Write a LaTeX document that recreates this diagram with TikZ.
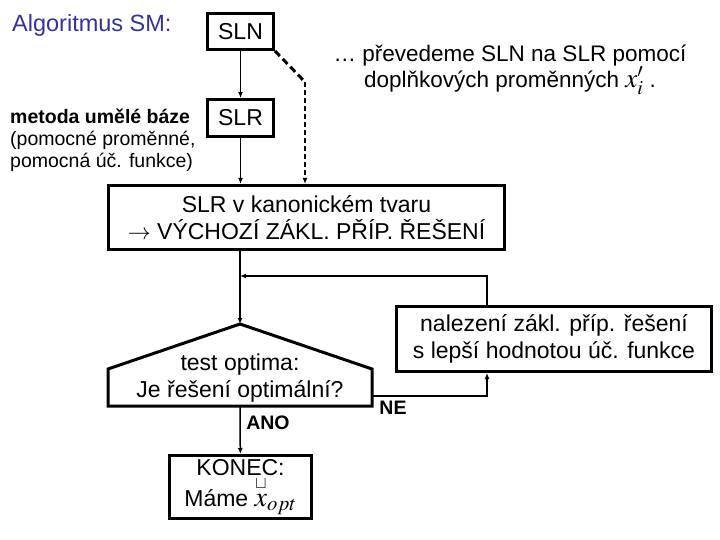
\documentclass[tikz,border=0pt]{standalone}
\usepackage{amsmath}
\usepackage{mathptmx}
\usepackage{fontspec}
\setmainfont{Liberation Sans}
\usetikzlibrary{arrows.meta}
\definecolor{titleblue}{RGB}{51,51,153}
\begin{document}
\begin{tikzpicture}[x=1pt,y=-1pt,
  box/.style={draw, line width=3pt, inner sep=0pt, align=center, font=\fontsize{23}{26.5}\selectfont},
  plain/.style={inner sep=0pt, align=center, font=\fontsize{23}{26.5}\selectfont},
  conn/.style={line width=1.5pt, -{Latex[length=6pt,width=5pt]}},
  lbl/.style={inner sep=0pt, font=\fontsize{19.5}{22}\selectfont\bfseries}]
\useasboundingbox (0,0) rectangle (720,540);
\node[anchor=west, text=titleblue, font=\fontsize{23.5}{28}\selectfont, inner sep=0pt] (title) at (12,25) {Algoritmus SM:};
\node[box, minimum width=66pt, minimum height=36pt] (sln) at (240.5,31.5) {SLN};
\node[box, minimum width=66pt, minimum height=37pt] (slr) at (240.5,118) {SLR};
\node[box, minimum width=396pt, minimum height=64pt] (kan) at (306.5,217.5) {SLR v kanonickém tvaru\\$\rightarrow$ VÝCHOZÍ ZÁKL. PŘÍP. ŘEŠENÍ};
\node[anchor=west, align=left, inner sep=0pt, font=\fontsize{19.5}{22}\selectfont] (meth) at (10,140) {\textbf{metoda umělé báze}\\(pomocné proměnné,\\pomocná úč. funkce)};
\node[plain, font=\fontsize{22.5}{25.5}\selectfont] (conv) at (510,70) {… převedeme SLN na SLR pomocí\\doplňkových proměnných {\fontsize{27}{25.5}\selectfont$x'_i$} .};
% test optima pentagon
\coordinate (pA) at (240,324);
\coordinate (pR) at (372,396);
\coordinate (pB) at (240,406);
\draw[line width=3pt, line join=miter] (pA) -- (372,369) -- (372,406) -- (108,406) -- (108,369) -- cycle;
\node[plain] (test) at (240,378) {test optima:\\Je řešení optimální?};
\node[box, minimum width=315pt, minimum height=65pt] (nal) at (554,339) {nalezení zákl. příp. řešení\\s lepší hodnotou úč. funkce};
\node[box, minimum width=142pt, minimum height=63pt] (kon) at (240.5,487) {KONEC:\\Máme {\fontsize{28}{26.5}\selectfont$\overset{\scriptscriptstyle\sqcup}{x}_{opt}$}};
% connectors
\draw[conn] (sln) -- (slr);
\draw[conn] (slr.south) -- (slr.south |- kan.north);
\coordinate (dbend) at (305,82);
\draw[line width=3pt, dash pattern=on 7pt off 4pt] (sln.south east) -- (dbend);
\draw[line width=1.5pt, dash pattern=on 5pt off 3pt, -{Latex[length=6pt,width=5pt]}] (dbend) -- (dbend |- kan.north);
\draw[conn] (pA |- kan.south) -- (pA);
\coordinate (loopR) at (487,276);
\draw[conn] (nal.north -| loopR) |- (pA |- loopR);
\draw[conn] (pR) -| (nal.south -| loopR);
\draw[conn] (pB) -- (kon);
\node[lbl] (ne) at (393,408) {NE};
\node[lbl] (ano) at (268,423) {ANO};
\end{tikzpicture}
\end{document}
